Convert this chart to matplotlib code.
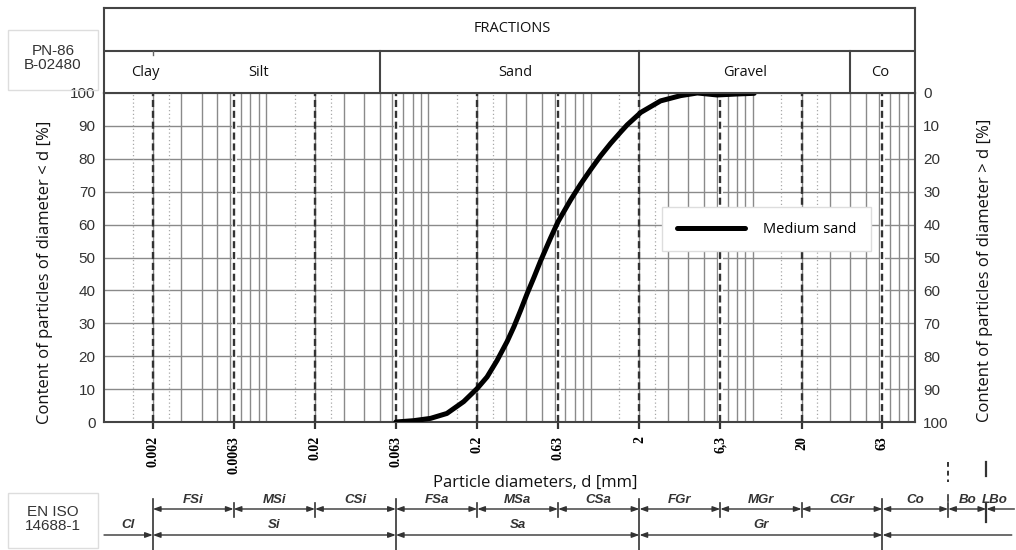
import numpy as np
import matplotlib
matplotlib.use('Agg')
from matplotlib import pyplot as plt
from matplotlib.patches import Rectangle

# grain size curve
diam = [0.063, 0.081, 0.103, 0.130, 0.165, 0.2, 0.230, 0.265, 0.306, 0.337, 0.370,
        0.406, 0.447, 0.491, 0.566, 0.63, 0.753, 0.868, 1.0, 1.153, 1.33, 1.53,
        1.68, 2.04, 2.7, 3.59, 4.55, 6.03, 8.0, 10.2]
passing = [0, 0.4, 1.1, 2.6, 6.2, 10.2, 13.7, 18.7, 24.5, 29.0, 33.9,
           39.0, 43.9, 48.9, 55.9, 60.9, 67.5, 72.3, 76.7, 80.9, 84.7, 88.1,
           90.3, 94.1, 97.6, 99.2, 100, 99.4, 99.7, 99.9]
series_name = 'Medium sand'

tick_vals = [0.002, 0.0063, 0.02, 0.063, 0.2, 0.63, 2, 6.3, 20, 63]
tick_labels = ['0.002', '0.0063', '0.02', '0.063', '0.2', '0.63', '2', '6,3', '20', '63']
halo_vals = [0.0063, 0.063, 0.63, 6.3, 63]

# PN-86 header
pn_bounds = [0.05, 2, 40]
pn_names = ['Clay', 'Silt', 'Sand', 'Gravel', 'Co']
pn_name_pos = [0.051, 0.19, 0.507, 0.79, 0.957]

# EN ISO 14688-1 rows (Bo / LBo bounds squeezed in the source drawing)
iso_top = ['FSi', 'MSi', 'CSi', 'FSa', 'MSa', 'CSa', 'FGr', 'MGr', 'CGr', 'Co', 'Bo', 'LBo']
iso_top_b = [0.002, 0.0063, 0.02, 0.063, 0.2, 0.63, 2, 6.3, 20, 63, 160, 275, 410]
iso_bot = ['Cl', 'Si', 'Sa', 'Gr']
iso_bot_b = [0.001, 0.002, 0.063, 2, 63, 395]
iso_major = [0.002, 0.063, 2, 63]

W, H = 1016, 550
fig = plt.figure(figsize=(W / 100, H / 100), dpi=100)
fig.patch.set_facecolor('white')

def box(x0, y0, x1, y1):
    return [x0 / W, 1 - y1 / H, (x1 - x0) / W, (y1 - y0) / H]

dark = '#333333'
grid = '#8a8a8a'

ax = fig.add_axes(box(104, 93, 915, 422))
ax.set_xscale('log')
ax.set_xlim(0.001, 100)
ax.set_ylim(0, 100)

# grid
for yv in range(10, 100, 10):
    ax.axhline(yv, color=grid, lw=1.0, zorder=1)
for e in range(-3, 2):
    for k in range(1, 10):
        v = k * 10.0 ** e
        if 0.001 < v < 100:
            ax.axvline(v, color=grid, lw=1.0, zorder=1)
    for k in (1.5, 2.5):
        ax.axvline(k * 10.0 ** e, color='#a8a8a8', lw=0.9, ls=(0, (1, 2)), zorder=1)
for v in tick_vals:
    if v in halo_vals:
        ax.axvline(v, color='white', lw=3.5, zorder=2)
    ax.axvline(v, color=dark, lw=1.7, ls=(0, (3, 1.6)), zorder=3)

ax.plot(diam, passing, color='black', lw=3.6, solid_capstyle='round',
        solid_joinstyle='round', zorder=5, label=series_name)

leg = ax.legend(loc='upper left', bbox_to_anchor=(0.688, 0.653), borderaxespad=0,
                frameon=True, fancybox=False, edgecolor='#dddddd', framealpha=1,
                handlelength=4.7, handletextpad=1.2, borderpad=1.0,
                prop={'family': 'Open Sans', 'size': 10.5})
leg.get_frame().set_linewidth(1.0)
leg.set_zorder(6)

for s in ax.spines.values():
    s.set_color('#444444')
    s.set_linewidth(1.5)

ax.set_yticks(range(0, 101, 10))
ax.tick_params(axis='y', length=0, pad=6, labelsize=11, labelcolor=dark)
for t in ax.get_yticklabels():
    t.set_family('Liberation Sans')
ax.set_xticks(tick_vals)
ax.set_xticklabels(tick_labels, rotation=90, family='Liberation Serif',
                   fontweight='bold', fontsize=10)
ax.xaxis.set_minor_locator(matplotlib.ticker.NullLocator())
ax.tick_params(axis='x', length=5, width=1.6, color=dark, pad=5)

ax2 = ax.twinx()
ax2.set_ylim(100, 0)
ax2.set_yticks(range(0, 101, 10))
ax2.tick_params(axis='y', length=0, pad=6, labelsize=11, labelcolor=dark)
for t in ax2.get_yticklabels():
    t.set_family('Liberation Sans')
for s in ax2.spines.values():
    s.set_visible(False)

fig.text(45 / W, 1 - 272 / H, 'Content of particles of diameter < d [%]', rotation=90,
         ha='center', va='center', family='Open Sans', fontsize=12, color='#111111')
fig.text(985 / W, 1 - 270 / H, 'Content of particles of diameter > d [%]', rotation=90,
         ha='center', va='center', family='Open Sans', fontsize=12, color='#111111')
fig.text(535 / W, 1 - 483 / H, 'Particle diameters, d [mm]', ha='center', va='center',
         family='Open Sans', fontsize=12, color='#111111')

# header
hx = fig.add_axes(box(104, 8, 915, 93))
hx.set_xscale('log')
hx.set_xlim(0.001, 100)
hx.set_ylim(93, 8)
hx.set_xticks([])
hx.set_yticks([])
hx.xaxis.set_minor_locator(matplotlib.ticker.NullLocator())
for s in hx.spines.values():
    s.set_color('#444444')
    s.set_linewidth(1.5)
hx.plot([0.001, 100], [51, 51], color='#444444', lw=1.5)
for b in pn_bounds:
    hx.plot([b, b], [51, 93], color='#444444', lw=1.5)
hx.plot([0.002, 0.002], [51, 55], color='#666666', lw=1)
hx.text(0.503, 1 - 21 / 85, 'FRACTIONS', transform=hx.transAxes, ha='center', va='center',
        family='Open Sans', fontsize=10.5, color='#111111')
for name, px in zip(pn_names, pn_name_pos):
    hx.text(px, 1 - 64 / 85, name, transform=hx.transAxes, ha='center', va='center',
            family='Open Sans', fontsize=10.5, color='#111111')

# side boxes
for (x0, y0, x1, y1), txt in [((8, 30, 98, 90), 'PN-86\nB-02480'),
                              ((8, 493, 98, 548), 'EN ISO\n14688-1')]:
    fig.patches.append(Rectangle((x0 / W, 1 - y1 / H), (x1 - x0) / W, (y1 - y0) / H,
                                 transform=fig.transFigure, fill=False,
                                 edgecolor='#dddddd', lw=1))
    fig.text((x0 + x1) / 2 / W, 1 - ((y0 + y1) / 2 - 2) / H, txt, ha='center', va='center',
             family='Liberation Sans', fontsize=11, color=dark, linespacing=1.0)

# EN ISO scale
bx = fig.add_axes(box(104, 488, 915, 550))
bx.set_xscale('log')
bx.set_xlim(0.001, 100)
bx.set_ylim(550, 488)
bx.axis('off')

def seg(x0, x1, y, style):
    bx.annotate('', xy=(x1, y), xytext=(x0, y), annotation_clip=False,
                arrowprops=dict(arrowstyle=style + ',head_length=0.55,head_width=0.2',
                                color=dark, lw=1, shrinkA=0, shrinkB=0,
                                mutation_scale=8))

for i, name in enumerate(iso_top):
    a, b = iso_top_b[i], iso_top_b[i + 1]
    seg(a, b, 509, '<|-' if name == 'LBo' else '<|-|>')
    bx.text(np.sqrt(a * b) * (0.92 if name == 'LBo' else 1), 500, name, ha='center',
            va='center', style='italic', fontweight='bold', family='Liberation Sans',
            fontsize=9.5, color=dark, clip_on=False)
for i, name in enumerate(iso_bot):
    a, b = iso_bot_b[i], iso_bot_b[i + 1]
    seg(a, b, 535, '-|>' if name == 'Cl' else '<|-|>')
    bx.text(np.sqrt(a * b), 525, name, ha='center', va='center', style='italic',
            fontweight='bold', family='Liberation Sans', fontsize=9.5, color=dark,
            clip_on=False)
seg(iso_bot_b[-2], iso_bot_b[-1], 535, '<|-')

for v in iso_top_b[:-1]:
    if v in iso_major:
        bx.plot([v, v], [499, 550], color=dark, lw=1.2, clip_on=False)
    else:
        bx.plot([v, v], [503, 517], color=dark, lw=1.2, clip_on=False)
bx.plot([iso_top_b[10]] * 2, [495, 501], color=dark, lw=1.2, clip_on=False)
bx.plot([iso_top_b[11]] * 2, [503, 522], color=dark, lw=1.6, clip_on=False)

# marks beyond the plot
bx.plot([iso_top_b[10]] * 2, [462, 482], color=dark, lw=1.4, ls=(0, (2.5, 2)), clip_on=False)
bx.plot([iso_top_b[11]] * 2, [462, 476], color=dark, lw=1.6, clip_on=False)

fig.savefig('out.png', dpi=100)
